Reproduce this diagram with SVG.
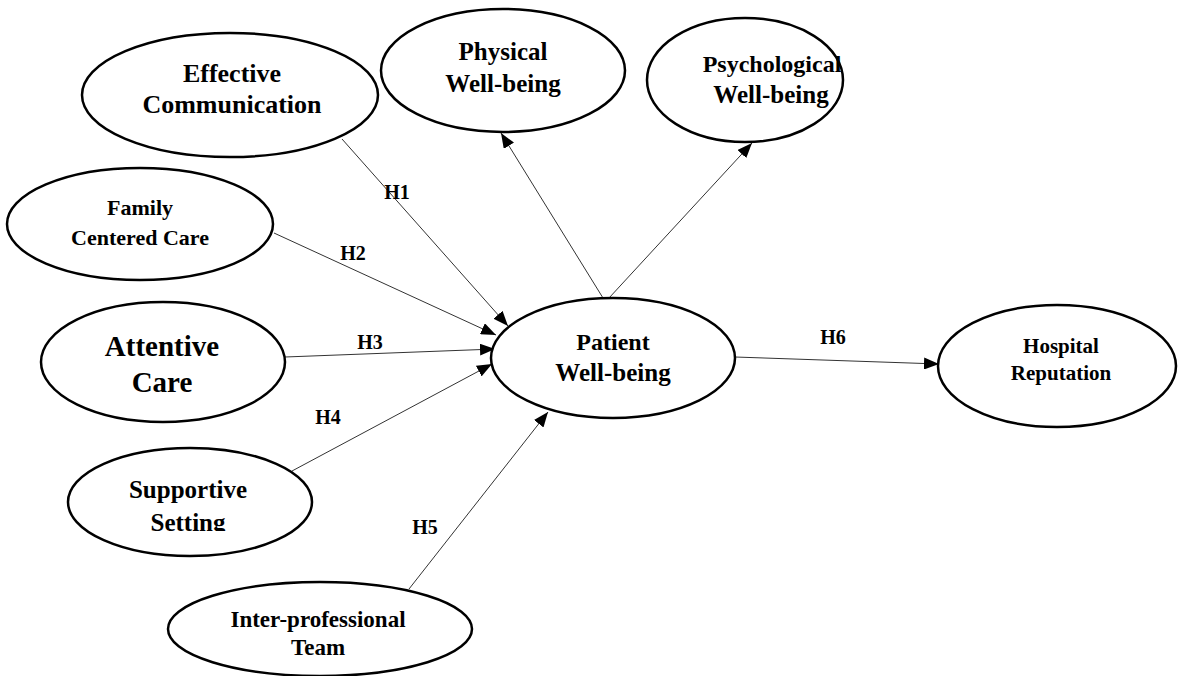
<svg xmlns="http://www.w3.org/2000/svg" width="1178" height="676" viewBox="0 0 1178 676">
<style>
.node ellipse{fill:#fff;stroke:#000;stroke-width:2.5}
.node text{font-family:"Liberation Serif","Times New Roman",serif;font-weight:bold;fill:#000;text-anchor:middle}
.conn line{stroke:#333;stroke-width:1;marker-end:url(#arr)}
.lbl{font-family:"Liberation Serif","Times New Roman",serif;font-weight:bold;font-size:20px;fill:#000;text-anchor:middle}
</style>
<defs>
<marker id="arr" markerUnits="userSpaceOnUse" markerWidth="15" markerHeight="12" refX="15" refY="6" orient="auto">
<path d="M0,0 L15,6 L0,12 z" fill="#000"/>
</marker>
<clipPath id="clipSet"><rect x="0" y="0" width="1178" height="531"/></clipPath>
</defs>
<rect width="1178" height="676" fill="#fff"/>
<g id="connectors" class="conn">
<line x1="342" y1="139" x2="508" y2="326"/>
<line x1="274" y1="233" x2="496" y2="335"/>
<line x1="285" y1="357" x2="495" y2="349"/>
<line x1="292" y1="471" x2="492" y2="364"/>
<line x1="409" y1="589" x2="548" y2="412"/>
<line x1="603" y1="298" x2="501" y2="133"/>
<line x1="609" y1="298" x2="752" y2="143"/>
<line x1="735" y1="357" x2="939" y2="364"/>
</g>
<g id="labels">
<text class="lbl" x="397" y="199">H1</text>
<text class="lbl" x="353" y="260">H2</text>
<text class="lbl" x="370" y="349">H3</text>
<text class="lbl" x="328" y="424">H4</text>
<text class="lbl" x="425" y="534">H5</text>
<text class="lbl" x="833" y="344">H6</text>
</g>
<g id="effective" class="node">
<ellipse cx="230" cy="95" rx="148" ry="62"/>
<text x="232" y="82" font-size="26">Effective</text>
<text x="232" y="113" font-size="26">Communication</text>
</g>
<g id="physical" class="node">
<ellipse cx="503" cy="70.5" rx="122" ry="61.5"/>
<text x="503" y="60" font-size="25">Physical</text>
<text x="503" y="92" font-size="25">Well-being</text>
</g>
<g id="psychological" class="node">
<ellipse cx="745" cy="80" rx="98" ry="62"/>
<text x="772" y="72" font-size="24">Psychological</text>
<text x="771" y="103" font-size="25">Well-being</text>
</g>
<g id="family" class="node">
<ellipse cx="140" cy="224" rx="133" ry="56"/>
<text x="140" y="215" font-size="22">Family</text>
<text x="140" y="245" font-size="22">Centered  Care</text>
</g>
<g id="attentive" class="node">
<ellipse cx="163" cy="362" rx="122" ry="60"/>
<text x="162" y="356" font-size="29">Attentive</text>
<text x="162" y="392" font-size="29">Care</text>
</g>
<g id="supportive" class="node">
<ellipse cx="190" cy="502" rx="122" ry="54"/>
<text x="188" y="498" font-size="25">Supportive</text>
<text x="188" y="531" font-size="25" clip-path="url(#clipSet)">Setting</text>
</g>
<g id="interprofessional" class="node">
<ellipse cx="320" cy="629" rx="152" ry="47"/>
<text x="318" y="627" font-size="23">Inter-professional</text>
<text x="318" y="655" font-size="23">Team</text>
</g>
<g id="patient" class="node">
<ellipse cx="613" cy="358" rx="122" ry="60"/>
<text x="613" y="350" font-size="24">Patient</text>
<text x="613" y="381" font-size="25">Well-being</text>
</g>
<g id="hospital" class="node">
<ellipse cx="1057" cy="366" rx="119" ry="61"/>
<text x="1061" y="353" font-size="21">Hospital</text>
<text x="1061" y="380" font-size="21">Reputation</text>
</g>
</svg>
